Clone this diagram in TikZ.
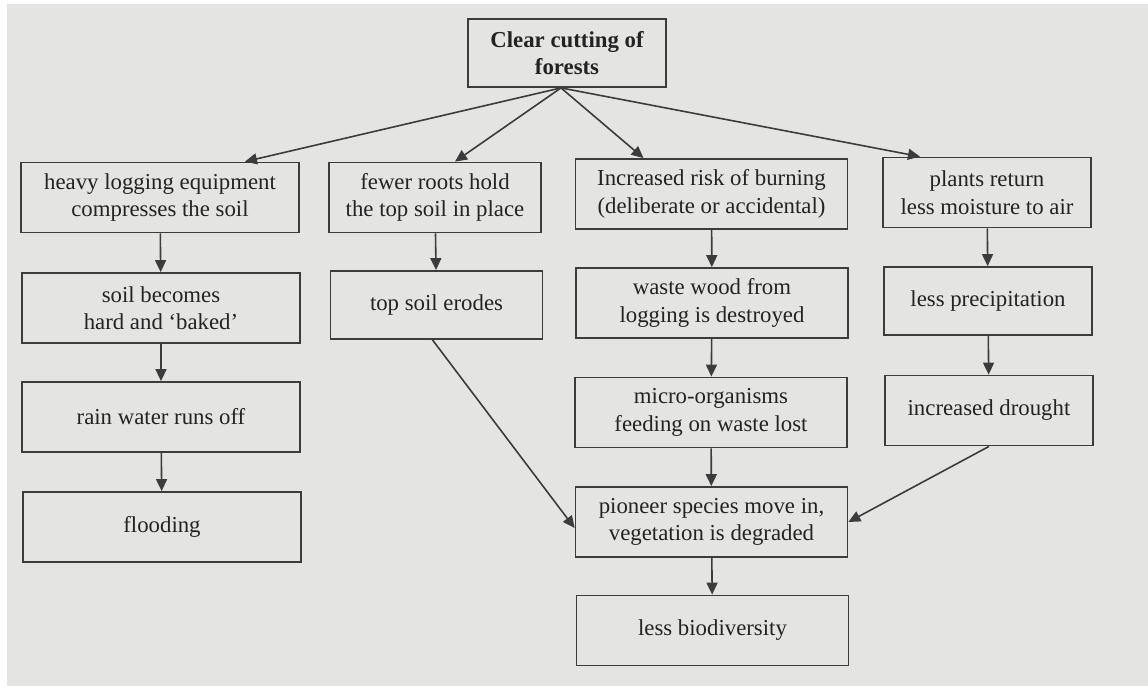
\documentclass[tikz,border=0pt]{standalone}
\usepackage{fontspec}
\setmainfont{Liberation Serif}
\usetikzlibrary{arrows.meta}

\definecolor{paper}{RGB}{228,228,226}
\definecolor{ink}{RGB}{60,60,60}
\definecolor{txt}{RGB}{35,35,35}

\begin{document}
\begin{tikzpicture}[x=0.5pt,y=-0.5pt,
  box/.style={draw=ink,line width=0.9pt,align=center,inner sep=0pt,minimum height=35pt,text=txt,font=\fontsize{11.4}{13.8}\selectfont},
  colA/.style={box,minimum width=139pt},
  colB/.style={box,minimum width=106pt},
  colC/.style={box,minimum width=136pt},
  colD/.style={box,minimum width=104pt},
  link/.style={draw=ink,line width=0.8pt,-{Triangle[length=6pt,width=5.5pt]}}]
\useasboundingbox (0,0) rectangle (1148,691);
\fill[white] (0,0) rectangle (1148,691);
\fill[paper] (7,4) rectangle (1148,686);

\node[box,minimum width=99pt,minimum height=34pt,font=\fontsize{11.4}{13.8}\selectfont\bfseries] (root) at (567,53) {Clear cutting of\\forests};

\node[colA] (equip) at (160,197.5) {heavy logging equipment\\compresses the soil};
\node[colB] (roots) at (435,197.5) {fewer roots hold\\the top soil in place};
\node[colC] (burn) at (711.5,194) {Increased risk of burning\\(deliberate or accidental)};
\node[colD] (plants) at (987,192.5) {plants return\\less moisture to air};

\node[colA] (baked) at (161,308) {soil becomes\\hard and `baked'};
\node[colB,minimum height=34pt] (erode) at (436.5,305) {top soil erodes};
\node[colC] (waste) at (712,303) {waste wood from\\logging is destroyed};
\node[colD,minimum height=34pt] (precip) at (988,301) {less precipitation};

\node[colA] (runoff) at (161,417) {rain water runs off};
\node[colC] (microbes) at (711,412.5) {micro-organisms\\feeding on waste lost};
\node[colD] (drought) at (989,410.5) {increased drought};

\node[colA] (flood) at (162,527) {flooding};
\node[colC] (pioneer) at (711.5,522) {pioneer species move in,\\vegetation is degraded};

\node[colC] (biodiv) at (712.5,630.5) {less biodiversity};

\draw[link] ([xshift=-3pt]root.south) -- ([xshift=42.5pt]equip.north);
\draw[link] ([xshift=-3pt]root.south) -- ([xshift=10pt]roots.north);
\draw[link] ([xshift=-3pt]root.south) -- ([xshift=-34pt]burn.north);
\draw[link] ([xshift=-3pt]root.south) -- ([xshift=-33.5pt]plants.north);

\draw[link] (equip) -- (baked);
\draw[link] (baked) -- (runoff);
\draw[link] (runoff) -- (flood);
\draw[link] (roots) -- (erode);
\draw[link] (burn) -- (waste);
\draw[link] (waste) -- (microbes);
\draw[link] (microbes) -- (pioneer);
\draw[link] (pioneer) -- (biodiv);
\draw[link] (plants) -- (precip);
\draw[link] (precip) -- (drought);

\draw[link] ([xshift=-2pt]erode.south) -- ([yshift=-3pt]pioneer.west);
\draw[link] (drought.south) -- (pioneer.east);
\end{tikzpicture}
\end{document}
